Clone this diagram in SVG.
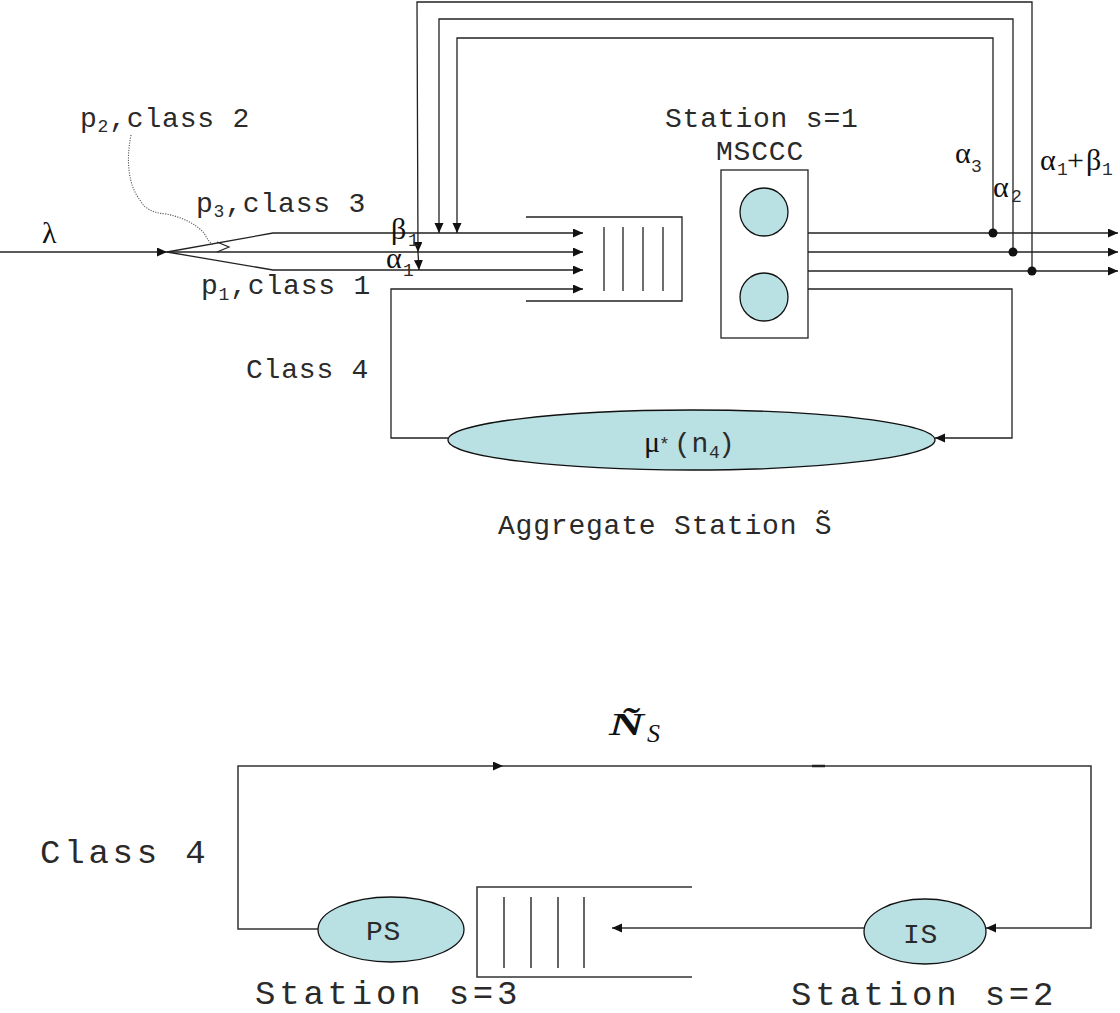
<svg xmlns="http://www.w3.org/2000/svg" width="1120" height="1013" viewBox="0 0 1120 1013">
<defs>
<marker id="ah" markerUnits="userSpaceOnUse" markerWidth="11" markerHeight="10" refX="10" refY="4.5" orient="auto">
<path d="M0,0 L10,4.5 L0,9 z" fill="#111"/>
</marker>
<style>
.ln{fill:none;stroke:#222;stroke-width:1.3}
.lb{fill:none;stroke:#333;stroke-width:1.5}
.ar{marker-end:url(#ah)}
.node{fill:#b9e0e3;stroke:#111;stroke-width:1.3}
.t{font-family:"Liberation Mono","Courier New",monospace;font-size:28px;letter-spacing:0.8px;fill:#2a2a2a}
.tb{font-family:"Liberation Mono","Courier New",monospace;font-size:34px;letter-spacing:3.8px;fill:#2a2a2a}
.sub{font-size:18px}
.g{font-family:"Liberation Serif","Times New Roman",serif;font-size:30px;fill:#111}
.s{font-family:"Liberation Mono","Courier New",monospace;font-size:18px;fill:#2a2a2a}
.dot{fill:#111}
</style>
</defs>
<rect width="1120" height="1013" fill="#fff"/>

<g id="connectors">
<path class="ln ar" d="M0,252 L167,252"/>
<path class="ln ar" d="M167,252 L273,233 L583,233"/>
<path class="ln ar" d="M167,252 L583,252"/>
<path class="ln ar" d="M167,252 L273,270 L583,270"/>
<path class="ln ar" d="M808,233 L1118,233"/>
<path class="ln ar" d="M808,252 L1118,252"/>
<path class="ln ar" d="M808,271 L1118,271"/>
<path class="ln ar" d="M993,233 L993,38 L457,38 L457,233"/>
<path class="ln ar" d="M1013,252 L1013,19 L439,19 L439,233"/>
<path class="ln ar" d="M1032,271 L1032,2 L417,2 L418,252"/>
<path class="ln ar" d="M418,252 L419,270"/>
<circle class="dot" cx="993" cy="233" r="4.5"/>
<circle class="dot" cx="1013" cy="252" r="4.5"/>
<circle class="dot" cx="1032" cy="271" r="4.5"/>
<path class="ln ar" d="M808,289 L1012,289 L1012,438 L935,438"/>
<path class="ln ar" d="M448,438 L391,438 L391,289 L583,289"/>
<path fill="none" stroke="#555" stroke-width="1.1" stroke-dasharray="1.2 1.3" d="M131,135 C126,160 128,185 140,200 C145,210 155,213 166,214 C182,217 196,224 204,233 C207,238 209,243 214,245"/>
<path fill="none" stroke="#222" stroke-width="1.2" d="M217,242 L229,247 L217,252"/>
<path class="lb ar" d="M318,929 L238,929 L238,766 L503,766"/>
<path class="lb ar" d="M503,766 L1091,766 L1091,928 L986,928"/>
<path d="M812,766 L825,766" stroke="#222" stroke-width="2.5"/>
<path class="lb ar" d="M864,928 L612,928"/>
</g>

<g id="queue1">
<path class="ln" d="M526,217 L682,217 L682,301 L526,301"/>
<path class="ln" d="M604,227 V291 M623,227 V291 M643,227 V291 M663,227 V291"/>
</g>

<g id="station1">
<rect x="721" y="170" width="87" height="168" fill="#fff" stroke="#222" stroke-width="1.3"/>
<circle class="node" cx="764" cy="212" r="24"/>
<circle class="node" cx="764" cy="297" r="24"/>
<text class="t" x="665" y="127">Station s=1</text>
<text class="t" x="716" y="160">MSCCC</text>
</g>

<g id="aggregate">
<ellipse class="node" cx="691.5" cy="440" rx="243.5" ry="30"/>
<text class="g" x="644" y="452" font-size="27">μ</text>
<text class="s" x="659" y="450" font-size="15">*</text>
<text class="t" x="674" y="452">(n</text>
<text class="s" x="709" y="458">4</text>
<text class="t" x="718" y="452">)</text>
<text class="t" x="498" y="534">Aggregate Station S̃</text>
</g>

<g id="labels-top">
<text class="g" x="42" y="243" font-size="27">λ</text>
<text class="t" x="80" y="127">p<tspan class="sub" dy="5">2</tspan><tspan dy="-5">,class 2</tspan></text>
<text class="t" x="196" y="212">p<tspan class="sub" dy="5">3</tspan><tspan dy="-5">,class 3</tspan></text>
<text class="t" x="201" y="294">p<tspan class="sub" dy="6">1</tspan><tspan dy="-6">,class 1</tspan></text>
<text class="t" x="246" y="378">Class 4</text>
<text class="g" x="391" y="239" font-size="26">β</text>
<text class="s" x="408" y="246" font-size="17">1</text>
<text class="g" x="386" y="268" font-size="28">α</text>
<text class="s" x="403" y="276" font-size="17">1</text>
<text class="g" x="955" y="163">α</text>
<text class="s" x="971" y="172">3</text>
<text class="g" x="993" y="197">α</text>
<text class="s" x="1011" y="202">2</text>
<text class="g" x="1040" y="170">α</text>
<text class="s" x="1057" y="175">1</text>
<text class="g" x="1067" y="170">+</text>
<text class="g" x="1086" y="170">β</text>
<text class="s" x="1102" y="175">1</text>
</g>

<g id="ps-station">
<ellipse class="node" cx="391" cy="929.5" rx="73" ry="32.5"/>
<text class="t" x="366" y="940" letter-spacing="6">PS</text>
<text class="tb" x="255" y="1004">Station s=3</text>
</g>

<g id="queue3">
<path class="lb" d="M692,887 L477,887 L477,977 L692,977"/>
<path class="lb" d="M504,897 V968 M531,897 V968 M558,897 V968 M584,897 V968"/>
</g>

<g id="is-station">
<ellipse class="node" cx="925" cy="931.5" rx="61" ry="32.5"/>
<text class="t" x="903" y="943" letter-spacing="6">IS</text>
<text class="tb" x="791" y="1005">Station s=2</text>
</g>

<g id="labels-bottom">
<text class="tb" x="40" y="863">Class 4</text>
<text font-family="Liberation Serif, Times New Roman, serif" font-weight="bold" font-style="italic" font-size="32" x="609" y="735" textLength="35" lengthAdjust="spacingAndGlyphs" fill="#111">Ñ</text>
<text font-family="Liberation Serif, Times New Roman, serif" font-style="italic" font-size="26" x="647" y="742" fill="#111">S</text>
</g>
</svg>
